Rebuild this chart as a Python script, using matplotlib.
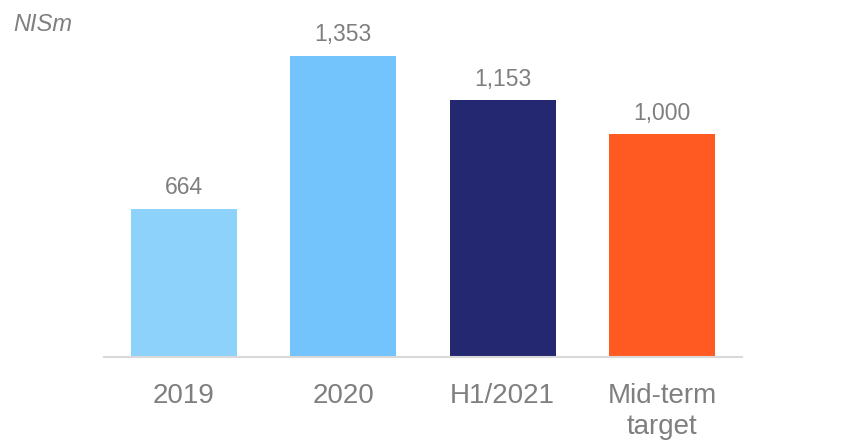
import matplotlib
matplotlib.use("Agg")
import matplotlib.pyplot as plt

categories = ["2019", "2020", "H1/2021", "Mid-term\ntarget"]
values = [664, 1353, 1153, 1000]
value_labels = ["664", "1,353", "1,153", "1,000"]
bar_colors = ["#8DD2FA", "#73C4FC", "#232870", "#FF5A22"]

plt.rcParams["font.family"] = ["Liberation Sans", "DejaVu Sans"]
text_gray = "#7F7F7F"

fig = plt.figure(figsize=(8.45, 4.41), dpi=100)
ax = fig.add_axes([104 / 845, 84 / 441, 638 / 845, 334 / 441])

x = range(len(categories))
bars = ax.bar(x, values, width=0.667, color=bar_colors)

for b, lab in zip(bars, value_labels):
    ax.annotate(lab, (b.get_x() + b.get_width() / 2, b.get_height()),
                xytext=(0, 7), textcoords="offset points",
                ha="center", va="bottom", fontsize=16.5, color=text_gray)

ax.set_xlim(-0.5, 3.5)
ax.set_ylim(0, 1500)
ax.set_xticks(list(x))
ax.set_xticklabels(categories, fontsize=20, color=text_gray, linespacing=1.25)
ax.tick_params(axis="x", length=0, pad=19)
ax.set_yticks([])

for side in ["top", "right", "left"]:
    ax.spines[side].set_visible(False)
ax.spines["bottom"].set_color("#D9D9D9")
ax.spines["bottom"].set_linewidth(1.5)

fig.text(13 / 845, 1 - 31 / 441, "NISm", fontsize=17, style="italic",
         color=text_gray, ha="left", va="baseline")

fig.savefig("out.png", dpi=100)
